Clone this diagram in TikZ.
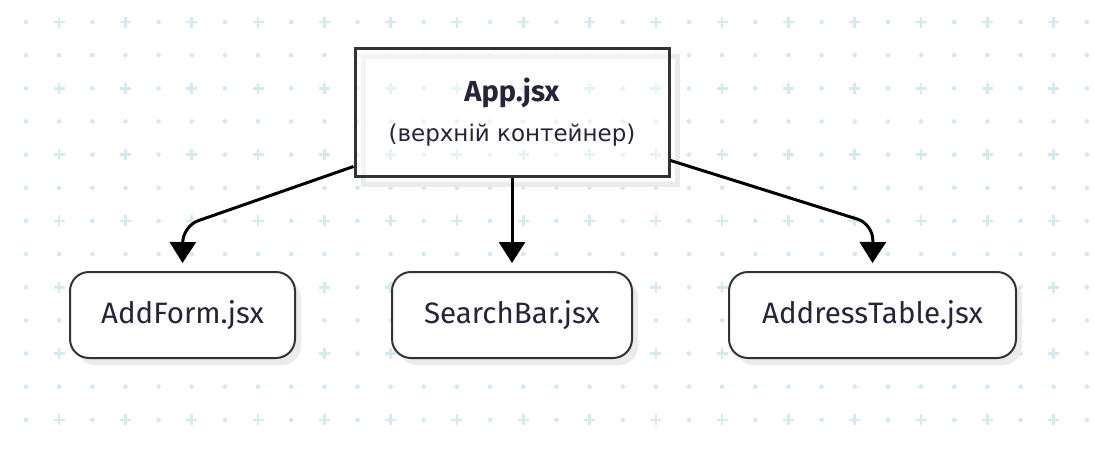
\documentclass[tikz,border=0pt]{standalone}
\usepackage{fontspec}
\setmainfont{Fira Sans}
\newfontfamily\djv{DejaVu Sans}
\usetikzlibrary{arrows.meta}
\definecolor{patc}{HTML}{D3EBEF}
\definecolor{txt}{HTML}{27233A}
\definecolor{bord}{HTML}{333333}
\definecolor{shad}{HTML}{EBEBEB}
\tikzset{
  pat/.style={patc},
  leaf/.style={draw=bord, line width=2pt, rounded corners=19pt, fill=white,
    minimum height=86pt, text=txt, font=\fontsize{29.5}{34}\selectfont, inner sep=0pt},
  leafshadow/.style={fill=shad, rounded corners=19pt},
  topbox/.style={draw=bord, line width=3pt, fill=white, fill opacity=0.45, text opacity=1,
    minimum width=314pt, minimum height=128pt, text=txt, align=center, inner sep=0pt,
    font=\fontsize{23}{23}\selectfont},
  conn/.style={line width=3pt, black, rounded corners=16pt,
    -{Triangle[length=21pt,width=26pt]}},
}
\begin{document}
\begin{tikzpicture}[x=1pt,y=-1pt]
\useasboundingbox (0,0) rectangle (1094,451);
\fill[white] (0,0) rectangle (1094,451);
% background pattern
\foreach \i in {0,...,32}{
  \foreach \j in {0,...,12}{
    \pgfmathsetmacro\px{26+33.15*\i}
    \pgfmathsetmacro\py{22+33.15*\j}
    \pgfmathtruncatemacro\pl{mod(\i,2)*(1-mod(\j,2))}
    \ifnum\pl=1
      \draw[pat, line width=2.6pt] (\px-5.5,\py) -- (\px+5.5,\py) (\px,\py-5.5) -- (\px,\py+5.5);
    \else
      \fill[pat] (\px,\py) circle (2.3);
    \fi
  }
}
% shadows
\draw[shad, line width=5pt] (363,56) rectangle (677,184);
\fill[leafshadow] (76,279) rectangle (301,365);
\fill[leafshadow] (398,279) rectangle (638,365);
\fill[leafshadow] (735,279) rectangle (1022,365);
% nodes
\node[topbox] (app) at (512,112) {{\fontsize{29}{29}\selectfont\bfseries App.jsx}\\[15pt]{\djv (верхній контейнер)}};
\node[leaf, minimum width=225pt] (addform) at (182.5,315) {AddForm.jsx};
\node[leaf, minimum width=240pt] (search) at (512,315) {SearchBar.jsx};
\node[leaf, minimum width=287pt] (table) at (872.5,315) {AddressTable.jsx};
% connectors
\draw[conn] ([yshift=11pt]app.south west) -- (183,226) -- ([yshift=8pt]addform.north);
\draw[conn] (app.south) -- ([yshift=8pt]search.north);
\draw[conn] ([yshift=17pt]app.south east) -- (873,224) -- ([yshift=8pt]table.north);
\end{tikzpicture}
\end{document}
